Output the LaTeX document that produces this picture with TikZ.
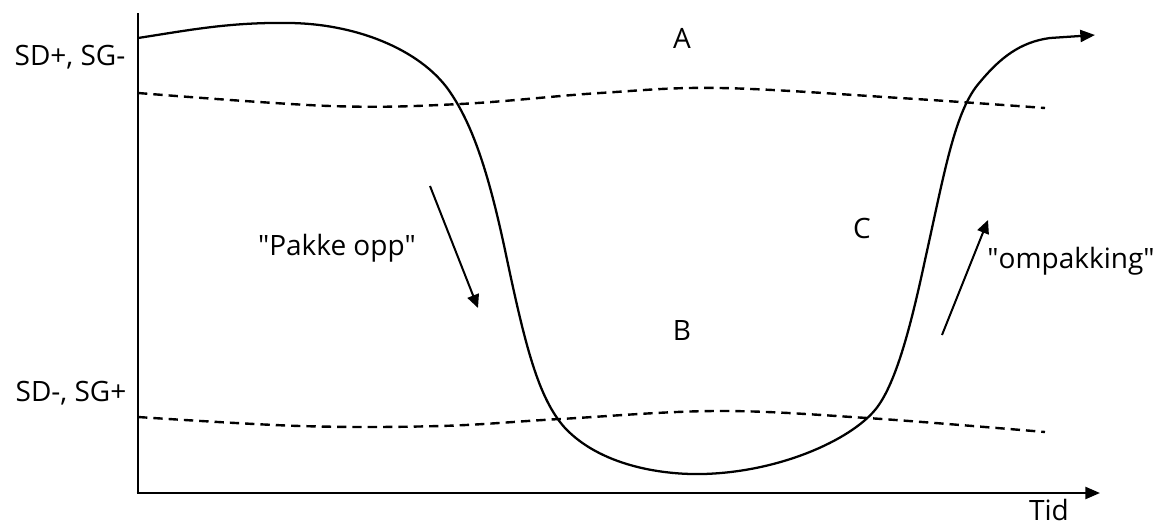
\documentclass[tikz,border=0pt]{standalone}
\usepackage{fontspec}
\setmainfont{Open Sans}
\usepackage{tikz}
\usetikzlibrary{arrows.meta,positioning,calc}
\tikzset{
  % axes and the main path share the same dark stroke
  axis/.style  = {line width=1.8pt, black},
  curve/.style = {line width=1.7pt, black, line join=round},
  bound/.style = {line width=1.8pt, black, dash pattern=on 7pt off 4.5pt},
  arr/.style   = {-{Triangle[length=10pt,width=9pt]}, line width=1.5pt, black},
  lbl/.style   = {font=\fontsize{21}{25}\selectfont, inner sep=0pt, anchor=base},
}

\begin{document}
\begin{tikzpicture}[x=0.75pt,y=-0.75pt]
\useasboundingbox (0,0) rectangle (1162,525);
% axes
\coordinate (o) at (138,493);
\coordinate (ytop) at (138,13);
\coordinate (xend) at (1100,493);
\draw[axis] (ytop) -- (o);
\draw[axis, -{Triangle[length=11pt,width=9pt]}] ([xshift=-1pt]o) -- (xend);
% upper and lower bounds
\draw[bound] plot[smooth, tension=0.6] coordinates
  {(138,93) (330,106) (460,104) (600,93) (720,88) (900,98) (1045,108)};
\draw[bound] plot[smooth, tension=0.6] coordinates
  {(138,417) (300,426) (440,426) (560,419) (717,411) (867,418) (1045,432)};
% main path
\draw[curve, -{Triangle[length=11pt,width=9pt]}] (138,38)
  .. controls (190,30) and (230,22) .. (290,23)
  .. controls (360,24) and (425,52) .. (452,95)
  .. controls (475,130) and (490,180) .. (505,250)
  .. controls (525,345) and (538,398) .. (565,428)
  .. controls (600,465) and (660,475) .. (703,474)
  .. controls (780,472) and (850,440) .. (875,410)
  .. controls (895,386) and (910,330) .. (925,260)
  .. controls (945,170) and (955,110) .. (980,82)
  .. controls (1000,58) and (1020,42) .. (1050,38)
  -- (1095,35);
% direction arrows
\coordinate (unpackA) at (430,186);
\coordinate (unpackB) at (478,308);
\coordinate (repackA) at (942,335);
\coordinate (repackB) at (988,220);
\draw[arr] (unpackA) -- (unpackB);
\draw[arr] (repackA) -- (repackB);
% labels
\node[lbl] (sdhi) at (70,65) {SD+, SG-};
\node[lbl] (sdlo) at (71,401) {SD-, SG+};
\node[lbl] (regA) at (682,48) {A};
\node[lbl] (regB) at (682,340) {B};
\node[lbl] (regC) at (862,238) {C};
\node[lbl] (pakk) at (337,255) {\textquotedbl Pakke opp\textquotedbl};
\node[lbl] (ompk) at (1071,268) {\textquotedbl ompakking\textquotedbl};
\node[lbl] (tid) at (1049,520) {Tid};
\end{tikzpicture}
\end{document}
